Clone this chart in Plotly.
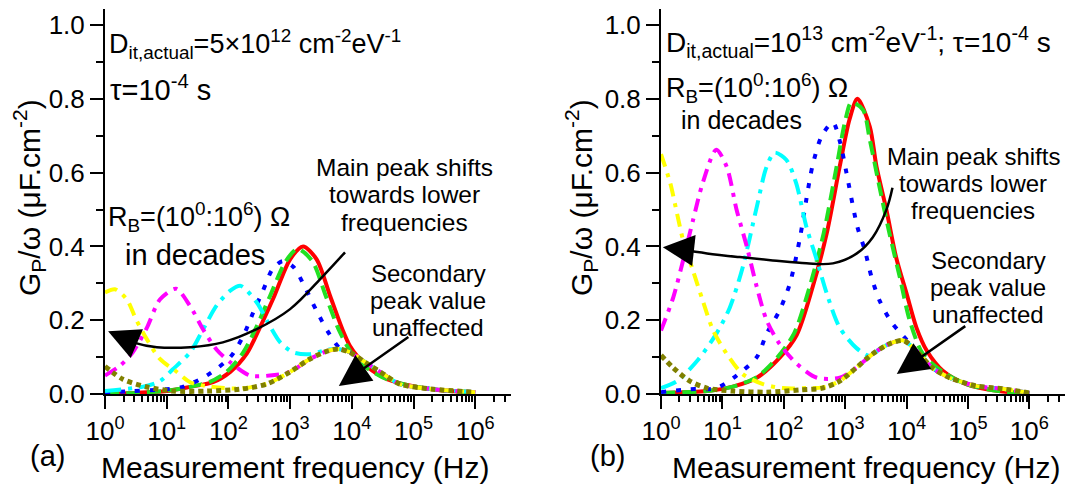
import plotly.graph_objects as go

W, H = 1079, 489
OFF = 8  # page body margin in the browser

# ---------------- data (log10 of frequency in Hz, Gp/omega in uF/cm^2) ----------------
A_RED_LOGF = [0, 0.5, 1.0, 1.4, 1.75, 2.03, 2.3, 2.51, 2.73, 3.0, 3.21, 3.43, 3.65, 3.86, 3.97, 4.1, 4.24, 4.57, 5.06, 5.59, 6.0]
A_RED_Y = [0.001, 0.003, 0.008, 0.02, 0.032, 0.06, 0.11, 0.18, 0.26, 0.365, 0.40, 0.365, 0.265, 0.17, 0.13, 0.1, 0.075, 0.04, 0.019, 0.008, 0.005]

A_GREEN_LOGF = [0, 0.5, 1.0, 1.4, 1.7, 1.97, 2.23, 2.45, 2.66, 2.93, 3.12, 3.36, 3.58, 3.8, 4.0, 4.2, 4.57, 5.06, 5.59, 6.0]
A_GREEN_Y = [0.001, 0.003, 0.009, 0.02, 0.033, 0.06, 0.11, 0.18, 0.26, 0.36, 0.393, 0.36, 0.265, 0.17, 0.11, 0.076, 0.04, 0.019, 0.008, 0.005]

A_BLUE_LOGF = [0, 0.45, 1.0, 1.27, 1.65, 2.03, 2.24, 2.4, 2.56, 2.72, 2.88, 3.05, 3.24, 3.43, 3.62, 3.8, 3.97, 4.18, 4.46, 4.78, 5.32, 6.0]
A_BLUE_Y = [0.003, 0.008, 0.013, 0.02, 0.05, 0.10, 0.157, 0.22, 0.28, 0.34, 0.36, 0.345, 0.29, 0.225, 0.167, 0.125, 0.113, 0.09, 0.06, 0.027, 0.013, 0.005]

A_CYAN_LOGF = [0, 0.62, 0.89, 1.1, 1.38, 1.59, 1.81, 2.03, 2.2, 2.46, 2.67, 2.84, 3.05, 3.32, 3.6, 3.78, 3.97, 4.18, 4.46, 4.78, 5.32, 6.0]
A_CYAN_Y = [0.008, 0.02, 0.035, 0.067, 0.113, 0.175, 0.24, 0.28, 0.293, 0.248, 0.185, 0.14, 0.113, 0.108, 0.12, 0.122, 0.113, 0.09, 0.06, 0.027, 0.013, 0.005]

A_MAGENTA_LOGF = [0, 0.24, 0.45, 0.68, 0.89, 1.15, 1.38, 1.59, 1.81, 2.03, 2.35, 2.67, 3.0, 3.32, 3.6, 3.78, 3.97, 4.18, 4.46, 4.78, 5.32, 6.0]
A_MAGENTA_Y = [0.05, 0.076, 0.113, 0.18, 0.256, 0.285, 0.238, 0.175, 0.12, 0.086, 0.05, 0.05, 0.06, 0.095, 0.116, 0.122, 0.113, 0.09, 0.06, 0.027, 0.013, 0.005]

A_YELLOW_LOGF = [0, 0.16, 0.35, 0.51, 0.68, 0.89, 1.17, 1.38, 1.7, 2.19, 2.62, 3.0, 3.32, 3.6, 3.78, 3.97, 4.18, 4.46, 4.78, 5.32, 6.0]
A_YELLOW_Y = [0.275, 0.284, 0.257, 0.2, 0.148, 0.095, 0.059, 0.032, 0.02, 0.015, 0.028, 0.06, 0.095, 0.116, 0.122, 0.113, 0.09, 0.06, 0.027, 0.013, 0.005]

A_OLIVE_LOGF = [0, 0.29, 0.68, 1.1, 1.65, 2.19, 2.62, 3.0, 3.32, 3.6, 3.78, 3.97, 4.18, 4.46, 4.78, 5.32, 6.0]
A_OLIVE_Y = [0.075, 0.04, 0.019, 0.008, 0.008, 0.013, 0.027, 0.06, 0.095, 0.116, 0.122, 0.113, 0.09, 0.06, 0.027, 0.013, 0.005]

B_RED_LOGF = [0, 0.75, 1.17, 1.56, 1.93, 2.21, 2.47, 2.7, 2.91, 3.07, 3.2, 3.4, 3.51, 3.67, 3.83, 4.0, 4.16, 4.33, 4.59, 4.97, 5.5, 6.0]
B_RED_Y = [0.003, 0.008, 0.02, 0.044, 0.098, 0.16, 0.29, 0.436, 0.616, 0.744, 0.80, 0.725, 0.616, 0.5, 0.37, 0.272, 0.18, 0.117, 0.063, 0.027, 0.008, 0.002]

B_GREEN_LOGF = [0, 0.75, 1.17, 1.56, 1.89, 2.17, 2.42, 2.65, 2.86, 3.0, 3.1, 3.29, 3.4, 3.56, 3.72, 3.89, 4.05, 4.26, 4.59, 4.97, 5.5, 6.0]
B_GREEN_Y = [0.003, 0.008, 0.02, 0.046, 0.098, 0.165, 0.29, 0.436, 0.616, 0.74, 0.79, 0.77, 0.69, 0.56, 0.436, 0.316, 0.2, 0.11, 0.06, 0.027, 0.008, 0.002]

B_BLUE_LOGF = [0, 0.47, 0.9, 1.23, 1.56, 1.72, 1.93, 2.1, 2.26, 2.37, 2.47, 2.62, 2.8, 2.92, 3.02, 3.2, 3.32, 3.43, 3.56, 3.76, 4.0, 4.16, 4.42, 4.7, 5.13, 5.56, 6.0]
B_BLUE_Y = [0.005, 0.013, 0.016, 0.05, 0.1, 0.163, 0.226, 0.3, 0.42, 0.53, 0.62, 0.70, 0.736, 0.68, 0.60, 0.452, 0.39, 0.316, 0.253, 0.193, 0.147, 0.117, 0.071, 0.044, 0.022, 0.014, 0.003]

B_CYAN_LOGF = [0, 0.26, 0.59, 0.9, 1.12, 1.33, 1.56, 1.72, 1.85, 2.04, 2.2, 2.37, 2.54, 2.7, 2.91, 3.18, 3.4, 3.56, 3.72, 3.95, 4.16, 4.42, 4.7, 5.13, 5.56, 6.0]
B_CYAN_Y = [0.016, 0.035, 0.09, 0.163, 0.234, 0.343, 0.507, 0.616, 0.654, 0.635, 0.572, 0.452, 0.362, 0.272, 0.18, 0.125, 0.103, 0.122, 0.136, 0.145, 0.117, 0.071, 0.044, 0.022, 0.014, 0.003]

B_MAGENTA_LOGF = [0, 0.2, 0.36, 0.52, 0.68, 0.9, 1.07, 1.23, 1.4, 1.56, 1.72, 1.93, 2.21, 2.54, 2.91, 3.18, 3.45, 3.72, 3.95, 4.16, 4.42, 4.7, 5.13, 5.56, 6.0]
B_MAGENTA_Y = [0.172, 0.262, 0.362, 0.47, 0.572, 0.662, 0.616, 0.5, 0.398, 0.29, 0.2, 0.136, 0.082, 0.044, 0.044, 0.071, 0.109, 0.136, 0.145, 0.117, 0.071, 0.044, 0.022, 0.014, 0.003]

B_YELLOW_LOGF = [0, 0.15, 0.26, 0.36, 0.52, 0.68, 0.85, 1.07, 1.33, 1.66, 1.98, 2.37, 2.63, 2.91, 3.18, 3.45, 3.72, 3.95, 4.16, 4.42, 4.7, 5.13, 5.56, 6.0]
B_YELLOW_Y = [0.65, 0.572, 0.49, 0.417, 0.335, 0.253, 0.172, 0.109, 0.054, 0.027, 0.016, 0.016, 0.018, 0.035, 0.071, 0.109, 0.136, 0.145, 0.117, 0.071, 0.044, 0.022, 0.014, 0.003]

B_OLIVE_LOGF = [0, 0.2, 0.47, 0.75, 1.17, 1.72, 2.26, 2.63, 2.91, 3.18, 3.45, 3.72, 3.95, 4.16, 4.42, 4.7, 5.13, 5.56, 6.0]
B_OLIVE_Y = [0.105, 0.071, 0.035, 0.016, 0.008, 0.005, 0.011, 0.016, 0.035, 0.071, 0.109, 0.136, 0.145, 0.117, 0.071, 0.044, 0.022, 0.014, 0.003]

# curved guide arrows (annotation decoration), log10 f / value
A_ARROW_LOGF = [3.89, 3.53, 3.0, 2.46, 1.91, 1.38, 0.84, 0.45, 0.2]
A_ARROW_Y = [0.384, 0.319, 0.23, 0.176, 0.14, 0.127, 0.127, 0.14, 0.158]
B_ARROW_LOGF = [3.77, 3.67, 3.45, 3.19, 2.8, 2.37, 1.82, 1.28, 0.75, 0.3]
B_ARROW_Y = [0.559, 0.499, 0.425, 0.381, 0.354, 0.354, 0.362, 0.371, 0.381, 0.392]

X_TICK_EXP = [0, 1, 2, 3, 4, 5, 6]
Y_TICKS = [0.0, 0.2, 0.4, 0.6, 0.8, 1.0]

MAIN_NOTE = ["Main peak shifts", "towards lower", "frequencies"]
SEC_NOTE = ["Secondary", "peak value", "unaffected"]

FONT = "Arial, Liberation Sans, sans-serif"

STYLES = [
    ("RED", "#ff0000", None, 4),
    ("GREEN", "#22e022", "14px,7px", 4),
    ("BLUE", "#0000ff", "5px,10px", 4),
    ("CYAN", "#00ffff", "16px,7px,4px,7px", 4),
    ("MAGENTA", "#ff00ff", "13px,7px,4px,7px", 4),
    ("YELLOW", "#ffff00", "13px,7px,4px,7px", 4),
    ("OLIVE", "#808000", "5px,4px", 5),
]

data = globals()
fig = go.Figure()

for panel, (xa, ya) in (("A", ("x", "y")), ("B", ("x2", "y2"))):
    for name, color, dash, width in STYLES:
        lf = data[f"{panel}_{name}_LOGF"]
        yv = data[f"{panel}_{name}_Y"]
        fig.add_trace(go.Scatter(
            x=[10 ** v for v in lf], y=yv, xaxis=xa, yaxis=ya, mode="lines",
            line=dict(color=color, width=width, dash=dash or "solid", shape="spline", smoothing=0.8),
            showlegend=False, hoverinfo="skip"))
    lf = data[f"{panel}_ARROW_LOGF"]
    yv = data[f"{panel}_ARROW_Y"]
    fig.add_trace(go.Scatter(
        x=[10 ** v for v in lf], y=yv, xaxis=xa, yaxis=ya, mode="lines",
        line=dict(color="black", width=2.5, shape="spline", smoothing=1.0),
        showlegend=False, hoverinfo="skip"))

# geometry (target pixel positions in the screenshot -> paper fractions)
def px(x):
    return (x - OFF) / W

def py(y):
    return 1 - (y - OFF) / H

YB, YT = 394, 9
ydom = [py(YB), min(1.0, py(YT))]
XR = [0, 6.58]
YR = [0, (YB - YT) / 369.0]
minor_vals = [m * 10 ** e for e in range(0, 7) for m in range(2, 10) if m * 10 ** e < 10 ** 6.58]

COMMON = dict(showline=True, linecolor="black", linewidth=2, showgrid=False, zeroline=False,
              automargin=False, fixedrange=True, tickcolor="black", tickwidth=2, ticklen=13)

def xaxis_cfg(dom, anchor):
    return dict(domain=dom, anchor=anchor, type="log", range=XR,
                tickvals=[10 ** e for e in X_TICK_EXP],
                ticktext=[f"10<sup>{e}</sup>" for e in X_TICK_EXP], ticks="outside",
                minor=dict(tickvals=minor_vals, ticks="outside", ticklen=6, tickwidth=1.5, tickcolor="black", showgrid=False),
                tickfont=dict(family=FONT, size=26, color="black"), **COMMON)

def xtop_cfg(over, anchor):
    return dict(overlaying=over, anchor=anchor, side="top", type="log", range=XR,
                tickvals=[10 ** e for e in X_TICK_EXP], showticklabels=False, ticks="inside",
                minor=dict(tickvals=minor_vals, ticks="inside", ticklen=6, tickwidth=1.5, tickcolor="black", showgrid=False),
                **COMMON)

def yaxis_cfg(anchor):
    return dict(domain=ydom, anchor=anchor, range=YR, tickvals=Y_TICKS,
                ticktext=[f"{v:.1f}" for v in Y_TICKS], ticks="outside",
                minor=dict(dtick=0.1, tick0=0.1, ticks="outside", ticklen=7, tickwidth=1.5, tickcolor="black", showgrid=False),
                tickfont=dict(family=FONT, size=26, color="black"), **COMMON)

def yright_cfg(over, anchor):
    return dict(overlaying=over, anchor=anchor, side="right", range=YR, tickvals=Y_TICKS,
                showticklabels=False, ticks="inside",
                minor=dict(dtick=0.1, tick0=0.1, ticks="inside", ticklen=7, tickwidth=1.5, tickcolor="black", showgrid=False),
                **COMMON)

fig.update_layout(
    width=W, height=H, margin=dict(l=0, r=0, t=0, b=0, pad=0, autoexpand=False),
    paper_bgcolor="white", plot_bgcolor="white",
    font=dict(family=FONT, size=24, color="black"),
    xaxis=xaxis_cfg([px(105), px(511)], "y"),
    yaxis=yaxis_cfg("x"),
    xaxis2=xaxis_cfg([px(661), px(1065)], "y2"),
    yaxis2=yaxis_cfg("x2"),
    xaxis3=xtop_cfg("x", "y"),
    yaxis3=yright_cfg("y", "x"),
    xaxis4=xtop_cfg("x2", "y2"),
    yaxis4=yright_cfg("y2", "x2"),
)

def txt(xpx, ypx, text, size=24, xanchor="left", align="left", angle=0):
    fig.add_annotation(x=px(xpx), y=py(ypx), xref="paper", yref="paper", text=text,
                       showarrow=False, xanchor=xanchor, yanchor="middle", align=align,
                       textangle=angle, borderpad=0,
                       font=dict(family=FONT, size=size, color="black"))

# panel (a) texts
txt(108, 44, "D<sub>it,actual</sub>=5×10<sup>12</sup> cm<sup>-2</sup>eV<sup>-1</sup>", 27)
txt(109, 88, "τ=10<sup>-4</sup> s", 29)
txt(107, 217, "R<sub>B</sub>=(10<sup>0</sup>:10<sup>6</sup>) Ω", 27)
txt(195, 255, "in decades", 29, xanchor="center")
for i, line in enumerate(MAIN_NOTE):
    txt(404, 167 + 27.5 * i, line, 24.5, xanchor="center")
for i, line in enumerate(SEC_NOTE):
    txt(428, 273 + 27 * i, line, 24, xanchor="center")

# panel (b) texts
txt(665, 42, "D<sub>it,actual</sub>=10<sup>13</sup> cm<sup>-2</sup>eV<sup>-1</sup>; τ=10<sup>-4</sup> s", 28)
txt(665, 88, "R<sub>B</sub>=(10<sup>0</sup>:10<sup>6</sup>) Ω", 27)
txt(741, 120, "in decades", 25, xanchor="center")
for i, line in enumerate(MAIN_NOTE):
    txt(973, 156 + 27 * i, line, 24, xanchor="center")
for i, line in enumerate(SEC_NOTE):
    txt(988, 260 + 27 * i, line, 24, xanchor="center")

# axis titles & panel labels
txt(295, 467, "Measurement frequency (Hz)", 30, xanchor="center")
txt(866, 467, "Measurement frequency (Hz)", 30, xanchor="center")
txt(47, 456, "(a)", 29, xanchor="center")
txt(607, 456, "(b)", 29, xanchor="center")
txt(29, 198, "G<sub>P</sub>/ω (μF.cm<sup>-2</sup>)", 30, xanchor="center", angle=-90)
txt(581, 198, "G<sub>P</sub>/ω (μF.cm<sup>-2</sup>)", 30, xanchor="center", angle=-90)

# arrowheads & straight arrows (annotation decoration)
def arrow(xref, yref, logf, val, ax, ay):
    fig.add_annotation(x=logf, y=val, xref=xref, yref=yref, ax=ax, ay=ay, axref="pixel", ayref="pixel",
                       text="", showarrow=True, arrowhead=2, arrowsize=2.5,
                       arrowwidth=2.5, arrowcolor="black")

arrow("x", "y", 0.05, 0.17, 14, 6)
arrow("x", "y", 3.79, 0.022, 71, -50)
arrow("x2", "y2", 0.03, 0.398, 18, 2)
arrow("x2", "y2", 3.84, 0.054, 70, -49)

fig.write_html("out.html")
